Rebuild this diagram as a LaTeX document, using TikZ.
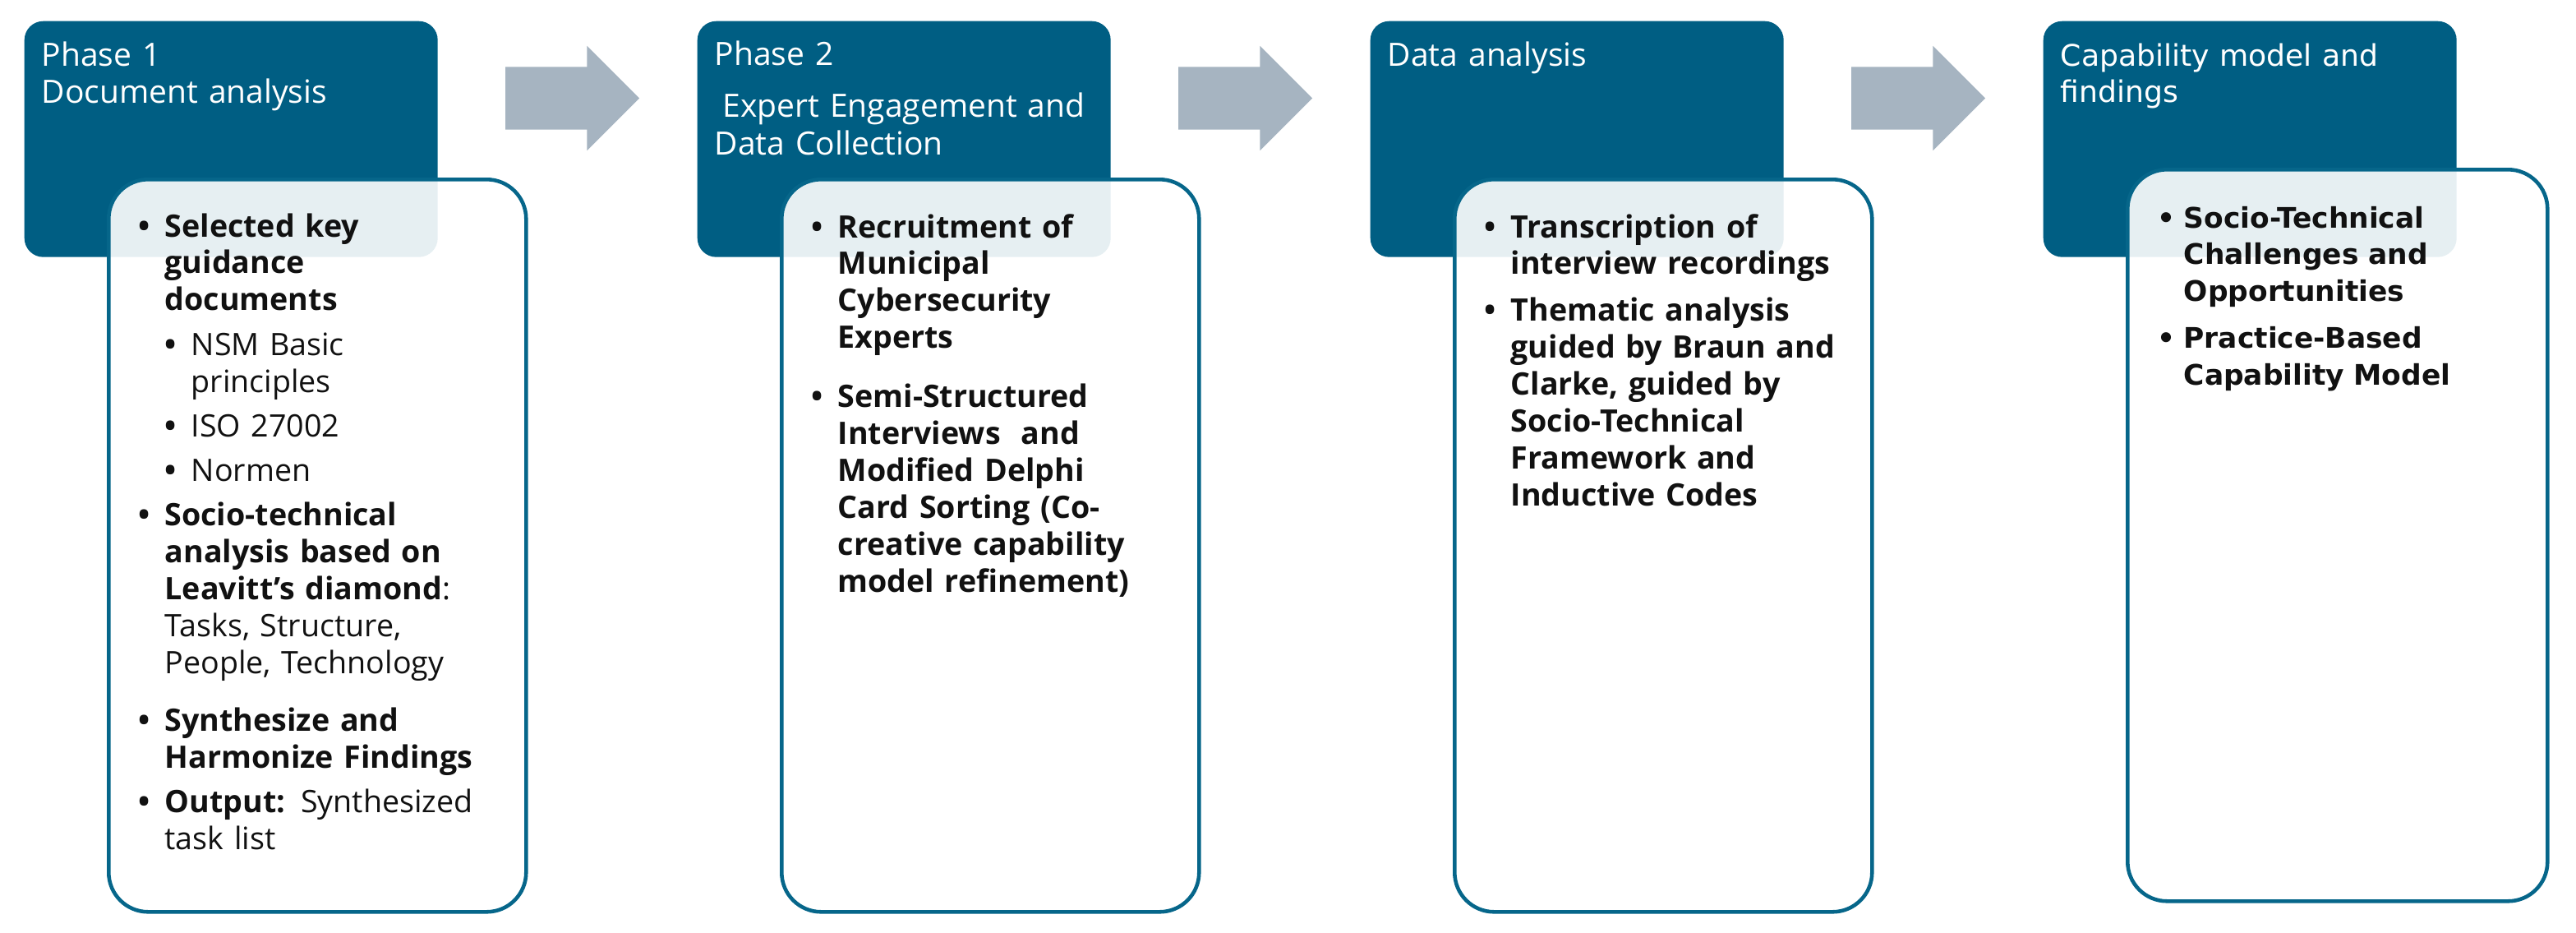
\documentclass[tikz,border=0pt]{standalone}
\usepackage{fontspec}
\setmainfont{Open Sans}
\newfontfamily\widefont{DejaVu Sans}
\usetikzlibrary{positioning,shapes.arrows}

\definecolor{phaseblue}{RGB}{0,94,131}
\definecolor{rimblue}{RGB}{6,102,138}
\definecolor{arrowgrey}{RGB}{166,180,193}
\definecolor{inkblack}{RGB}{17,17,17}

\newlength{\bulwd}\setlength{\bulwd}{0.32cm}
\newlength{\subwd}\setlength{\subwd}{0.32cm}
\newcommand{\bitem}[1]{\noindent\hangindent=\bulwd\hangafter=1\makebox[\bulwd][l]{\textbf{\textbullet}}#1\par}
\newcommand{\sitem}[1]{\noindent\hangindent=\dimexpr\bulwd+\subwd\relax\hangafter=1\hspace*{\bulwd}\makebox[\subwd][l]{\textbf{\textbullet}}#1\par}

\tikzset{
  phasehead/.style={fill=phaseblue, rounded corners=0.23cm, minimum width=5.03cm, minimum height=2.87cm, inner sep=0pt, anchor=north west},
  phasebody/.style={draw=rimblue, line width=1.3pt, fill=white, fill opacity=0.9, rounded corners=0.48cm, minimum width=5.08cm, minimum height=8.91cm, inner sep=0pt, anchor=north west},
  flowarrow/.style={single arrow, fill=arrowgrey, minimum height=1.63cm, inner xsep=0pt, inner ysep=0.375cm, single arrow head extend=0.255cm, single arrow tip angle=90, anchor=tail},
  headtext/.style={text=white, font=\fontsize{11.1}{13}\selectfont, text width=4.8cm, align=left, inner sep=0pt, anchor=base west, execute at begin node={\setlength{\parskip}{0pt}}},
  bodytext/.style={text=inkblack, font=\fontsize{10.7}{12.8}\selectfont, text width=4.6cm, align=left, inner sep=0pt, anchor=base west, execute at begin node={\setlength{\parskip}{3.4pt}}},
}

\begin{document}
\begin{tikzpicture}

        \path[use as bounding box, fill=white] (0,0) rectangle (31.35,-11.34);

        % ---------- Phase headers ----------
        \node[phasehead] (ph1) at (0.29,-0.25) {};
        \node[phasehead] (ph2) at (8.48,-0.25) {};
        \node[phasehead] (ph3) at (16.67,-0.25) {};
        \node[phasehead] (ph4) at (24.86,-0.25) {};

        % arrows between the phases
        \node[flowarrow] (arr12) at ([xshift=0.81cm,yshift=-0.945cm]ph1.north east) {};
        \node[flowarrow] (arr23) at ([xshift=0.81cm,yshift=-0.945cm]ph2.north east) {};
        \node[flowarrow] (arr34) at ([xshift=0.81cm,yshift=-0.945cm]ph3.north east) {};

        % ---------- Content boxes ----------
        \node[phasebody] (box1) at ([xshift=1.01cm,yshift=-1.91cm]ph1.north west) {};
        \node[phasebody] (box2) at ([xshift=1.01cm,yshift=-1.91cm]ph2.north west) {};
        \node[phasebody] (box3) at ([xshift=1.01cm,yshift=-1.91cm]ph3.north west) {};
        \node[phasebody, minimum width=5.11cm, minimum height=8.90cm] (box4) at ([xshift=1.01cm,yshift=-1.79cm]ph4.north west) {};

        % header texts
        \node[headtext] (head1) at ([xshift=0.21cm,yshift=-0.55cm]ph1.north west)
          {Phase 1\\Document analysis};
        \node[headtext] (head2) at ([xshift=0.21cm,yshift=-0.54cm]ph2.north west)
          {Phase 2\\[0.18cm]\hspace*{0.25em}Expert Engagement and\\Data Collection};
        \node[headtext] (head3) at ([xshift=0.21cm,yshift=-0.55cm]ph3.north west)
          {Data analysis};
        \node[headtext, font=\widefont\fontsize{10.3}{12.8}\selectfont] (head4) at ([xshift=0.21cm,yshift=-0.55cm]ph4.north west)
          {Capability model and\\findings};

        % body texts
        \node[bodytext, execute at begin node={\setlength{\parskip}{2.6pt}}] (body1) at ([xshift=0.38cm,yshift=-0.72cm]box1.north west) {%
          \bitem{\textbf{Selected key\newline guidance\newline documents}}
          \sitem{NSM Basic\newline principles}
          \sitem{ISO 27002}
          \sitem{Normen}
          \bitem{\textbf{Socio-technical\newline analysis based on\newline Leavitt’s diamond}:\newline Tasks, Structure,\newline People, Technology}
          \vspace{4.5pt}
          \bitem{\textbf{Synthesize and\newline Harmonize Findings}}
          \bitem{\textbf{Output:} Synthesized\newline task list}};

        \node[bodytext, execute at begin node={\setlength{\parskip}{7.6pt}}] (body2) at ([xshift=0.38cm,yshift=-0.73cm]box2.north west) {%
          \bitem{\textbf{Recruitment of\newline Municipal\newline Cybersecurity\newline Experts}}
          \bitem{\textbf{Semi-Structured\newline Interviews\ \ and\newline Modified Delphi\newline Card Sorting (Co-\newline creative capability\newline model refinement)}}};

        \node[bodytext] (body3) at ([xshift=0.38cm,yshift=-0.73cm]box3.north west) {%
          \bitem{\textbf{Transcription of\newline interview recordings}}
          \bitem{\textbf{Thematic analysis\newline guided by Braun and\newline Clarke, guided by\newline Socio-Technical\newline Framework and\newline Inductive Codes}}};

        \node[bodytext, font=\widefont\fontsize{9.8}{12.8}\selectfont] (body4) at ([xshift=0.38cm,yshift=-0.73cm]box4.north west) {%
          \bitem{\textbf{Socio-Technical\newline Challenges and\newline Opportunities}}
          \bitem{\textbf{Practice-Based\newline Capability Model}}};

\end{tikzpicture}
\end{document}
